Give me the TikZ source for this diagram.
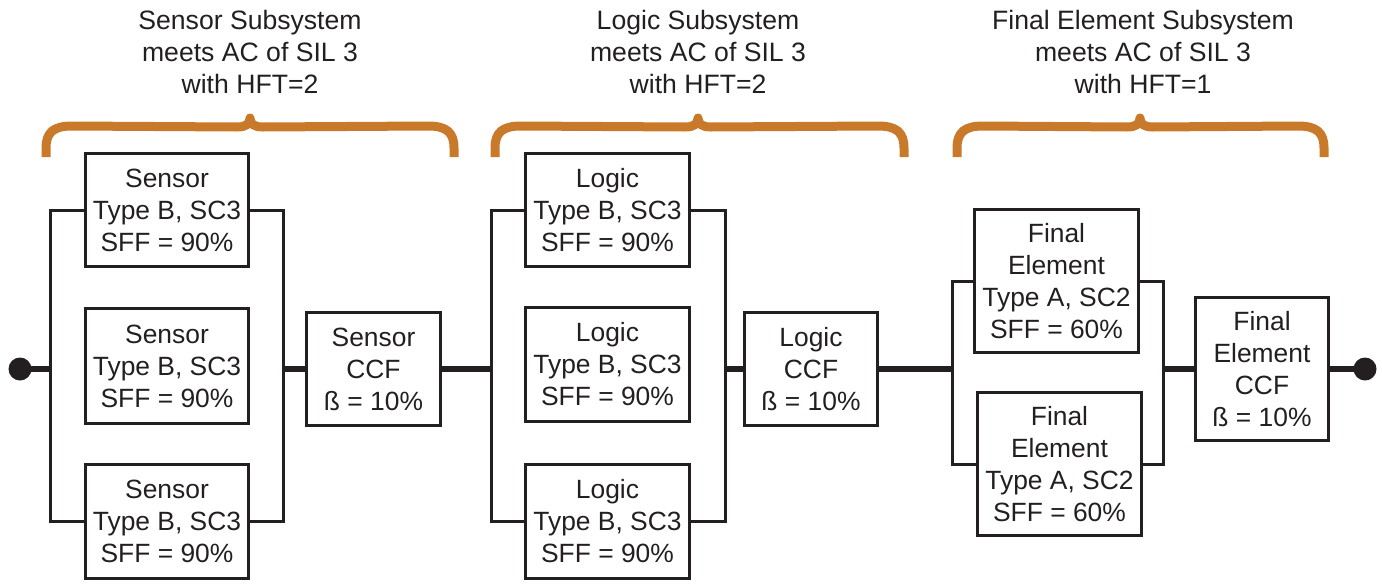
\documentclass[tikz,border=0pt]{standalone}
\usepackage{fontspec}
\setmainfont{Liberation Sans}
\definecolor{ink}{HTML}{231F20}
\definecolor{brc}{RGB}{200,121,41}
\newcommand{\subbrace}[3]{%
  \draw[bracestyle] (#1,157) -- (#1,148)
    .. controls (#1,132) and ({#1+8},126) .. ({#1+26},126)
    -- ({#3-13},127)
    .. controls ({#3-4},127) and (#3,124) .. (#3,118)
    .. controls (#3,124) and ({#3+4},127) .. ({#3+13},127)
    -- ({#2-26},126)
    .. controls ({#2-8},126) and (#2,132) .. (#2,148) -- (#2,157);}
\begin{document}
\begin{tikzpicture}[x=1pt,y=-1pt,
  blk/.style={draw=ink, line width=3pt, text=ink, align=center, inner sep=0pt,
    font=\fontsize{26.4}{32}\selectfont},
  wire/.style={draw=ink, line width=3pt},
  bus/.style={draw=ink, line width=6pt},
  bracestyle/.style={draw=brc, line width=9pt, line join=round},
  ttl/.style={text=ink, align=center, inner sep=0pt, font=\fontsize{26.6}{32}\selectfont},
  dot/.style={circle, fill=ink, minimum size=23pt, inner sep=0pt}]
\useasboundingbox (0,0) rectangle (1382,584);

% titles
\node[ttl] (t1) at (250,52) {Sensor Subsystem\\meets AC of SIL 3\\with HFT=2};
\node[ttl] (t2) at (698,52) {Logic Subsystem\\meets AC of SIL 3\\with HFT=2};
\node[ttl] (t3) at (1143,52) {Final Element Subsystem\\meets AC of SIL 3\\with HFT=1};

% braces
\subbrace{46}{454}{250}
\subbrace{495}{904}{698}
\subbrace{957}{1324}{1140}

% sensor
\node[blk, minimum width=163pt, minimum height=113pt] (s1) at (167,210) {Sensor\\Type B, SC3\\SFF = 90\%};
\node[blk, minimum width=163pt, minimum height=115pt] (s2) at (167,366) {Sensor\\Type B, SC3\\SFF = 90\%};
\node[blk, minimum width=163pt, minimum height=114pt] (s3) at (167,521.5) {Sensor\\Type B, SC3\\SFF = 90\%};
\node[blk, minimum width=134pt, minimum height=113pt] (sc) at (373.5,369) {Sensor\\CCF\\ß = 10\%};

% logic
\node[blk, minimum width=164pt, minimum height=113pt] (l1) at (607.5,210) {Logic\\Type B, SC3\\SFF = 90\%};
\node[blk, minimum width=164pt, minimum height=114pt] (l2) at (607.5,364.5) {Logic\\Type B, SC3\\SFF = 90\%};
\node[blk, minimum width=164pt, minimum height=114pt] (l3) at (607.5,521.5) {Logic\\Type B, SC3\\SFF = 90\%};
\node[blk, minimum width=133pt, minimum height=113pt] (lc) at (811,369) {Logic\\CCF\\ß = 10\%};

% final element
\node[blk, minimum width=164pt, minimum height=143pt] (f1) at (1056.5,281) {Final\\Element\\Type A, SC2\\SFF = 60\%};
\node[blk, minimum width=164pt, minimum height=143pt] (f2) at (1059.5,464) {Final\\Element\\Type A, SC2\\SFF = 60\%};
\node[blk, minimum width=133pt, minimum height=143pt] (fc) at (1262,369) {Final\\Element\\CCF\\ß = 10\%};

% end dots
\node[dot] (dl) at (20,369) {};
\node[dot] (dr) at (1365,369) {};

% rail coordinates
\coordinate (sL1) at (50,210); \coordinate (sL3) at (50,521.5); \coordinate (sLm) at (50,369);
\coordinate (sR1) at (283,210); \coordinate (sR3) at (283,521.5); \coordinate (sRm) at (283,369);
\coordinate (lL1) at (491,210); \coordinate (lL3) at (491,521.5); \coordinate (lLm) at (491,369);
\coordinate (lR1) at (725,210); \coordinate (lR3) at (725,521.5); \coordinate (lRm) at (725,369);
\coordinate (fL1) at (952,281); \coordinate (fL2) at (952,464); \coordinate (fLm) at (952,369);
\coordinate (fR1) at (1163,281); \coordinate (fR2) at (1163,464); \coordinate (fRm) at (1163,369);

% rails
\draw[wire] (s1.west) -- (sL1) -- (sL3) -- (s3.west);
\draw[wire] (s1.east) -- (sR1) -- (sR3) -- (s3.east);
\draw[wire] (l1.west) -- (lL1) -- (lL3) -- (l3.west);
\draw[wire] (l1.east) -- (lR1) -- (lR3) -- (l3.east);
\draw[wire] (f1.west) -- (fL1) -- (fL2) -- (f2.west);
\draw[wire] (f1.east) -- (fR1) -- (fR2) -- (f2.east);

% series line
\draw[bus] (dl.center) -- (sLm);
\draw[bus] (sRm) -- (sc.west);
\draw[bus] (sc.east) -- (lLm);
\draw[bus] (lRm) -- (lc.west);
\draw[bus] (lc.east) -- (fLm);
\draw[bus] (fRm) -- (fc.west);
\draw[bus] (fc.east) -- (dr.center);
\end{tikzpicture}
\end{document}
